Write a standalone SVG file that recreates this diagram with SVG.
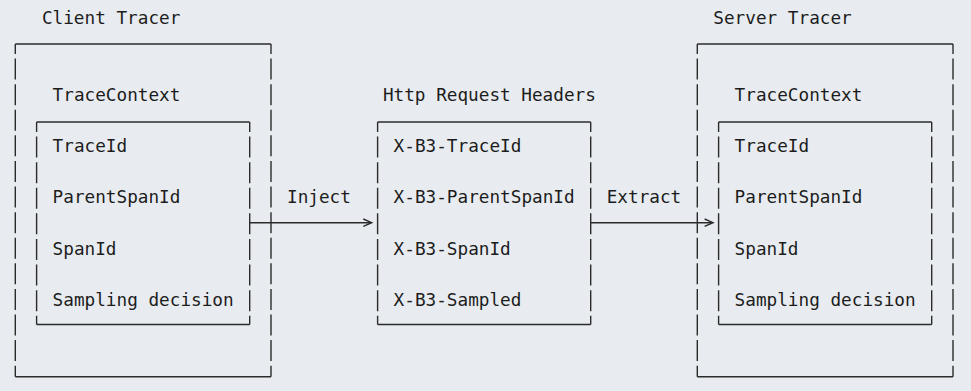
<svg xmlns="http://www.w3.org/2000/svg" width="971" height="391" viewBox="0 0 971 391">
  <style>
    text { font-family: "DejaVu Sans Mono", "Liberation Mono", monospace; font-size: 17.7px; fill: #1c1c1c; }
    .h { fill: none; stroke: #2b2b2b; stroke-width: 1.4; }
    .v { fill: none; stroke: #2b2b2b; stroke-width: 1.4; stroke-dasharray: 21 4.59; stroke-dashoffset: 11; }
    .wire { fill: none; stroke: #2b2b2b; stroke-width: 1.4; }
  </style>
  <rect width="971" height="391" fill="#e8ecf0"/>

  <!-- Client side tracer -->
  <g id="client-tracer">
    <text x="41.9" y="24.2">Client Tracer</text>
    <path class="h" d="M15.3 44H271M15.3 376.7H271"/>
    <path class="v" d="M15.3 44V376.7M271 44V376.7"/>
    <text x="52.6" y="101">TraceContext</text>
    <g id="client-context">
      <path class="h" d="M36.6 122H249.7M36.6 324.5H249.7"/>
      <path class="v" d="M36.6 122V324.5M249.7 122V324.5"/>
      <text x="52.6" y="152.2">TraceId</text>
      <text x="52.6" y="203.3">ParentSpanId</text>
      <text x="52.6" y="254.5">SpanId</text>
      <text x="52.6" y="305.7">Sampling decision</text>
    </g>
  </g>

  <!-- Propagation headers -->
  <g id="http-headers">
    <text x="382.9" y="101">Http Request Headers</text>
    <path class="h" d="M377.6 122H590.7M377.6 324.5H590.7"/>
    <path class="v" d="M377.6 122V324.5M590.7 122V324.5"/>
    <text x="393.6" y="152.2">X-B3-TraceId</text>
    <text x="393.6" y="203.3">X-B3-ParentSpanId</text>
    <text x="393.6" y="254.5">X-B3-SpanId</text>
    <text x="393.6" y="305.7">X-B3-Sampled</text>
  </g>

  <!-- Server side tracer -->
  <g id="server-tracer">
    <text x="713.3" y="24.2">Server Tracer</text>
    <path class="h" d="M697.3 44H953M697.3 376.7H953"/>
    <path class="v" d="M697.3 44V376.7M953 44V376.7"/>
    <text x="734.6" y="101">TraceContext</text>
    <g id="server-context">
      <path class="h" d="M718.6 122H931.7M718.6 324.5H931.7"/>
      <path class="v" d="M718.6 122V324.5M931.7 122V324.5"/>
      <text x="734.6" y="152.2">TraceId</text>
      <text x="734.6" y="203.3">ParentSpanId</text>
      <text x="734.6" y="254.5">SpanId</text>
      <text x="734.6" y="305.7">Sampling decision</text>
    </g>
  </g>

  <!-- Inject / Extract connectors -->
  <g id="connectors">
    <g id="inject">
      <path class="wire" d="M249.7 222.7H370.5"/>
      <path class="wire" d="M363.3 219L371.7 222.7L363.3 226.3"/>
      <text x="287" y="203.3">Inject</text>
    </g>
    <g id="extract">
      <path class="wire" d="M590.7 222.7H712"/>
      <path class="wire" d="M704.6 219L713 222.7L704.6 226.3"/>
      <text x="606.7" y="203.3">Extract</text>
    </g>
  </g>
</svg>
